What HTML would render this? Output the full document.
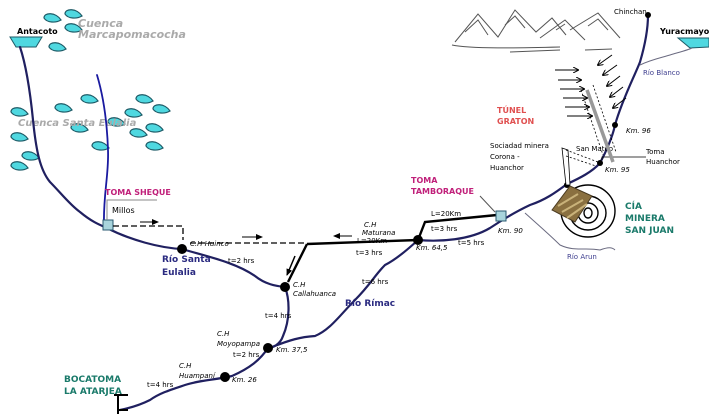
<!DOCTYPE html>
<html><head><meta charset="utf-8"><style>
body{margin:0;background:#fff}
svg{display:block}
text{font-family:"DejaVu Sans","Liberation Sans",sans-serif}
</style></head><body>
<svg width="709" height="414" viewBox="0 0 709 414" xmlns="http://www.w3.org/2000/svg">
<defs>
<marker id="ah" markerWidth="8" markerHeight="8" refX="6" refY="4" orient="auto" markerUnits="userSpaceOnUse"><path d="M0,1 L7,4 L0,7 z" fill="#000"/></marker>
<marker id="ah2" markerWidth="6" markerHeight="6" refX="5" refY="3" orient="auto" markerUnits="userSpaceOnUse"><path d="M0,0 L6,3 L0,6" fill="none" stroke="#000" stroke-width="1"/></marker>
<g id="lk"><path d="M0,5 C0,-1 12,-1 17,7 C12,10 3,10 0,5 z" fill="#4fd8e0" stroke="#1d5a66" stroke-width="1.2"/></g>
</defs>

<use href="#lk" x="44" y="13"/><use href="#lk" x="65" y="9"/><use href="#lk" x="65" y="23"/><use href="#lk" x="49" y="42"/>
<use href="#lk" x="11" y="107"/><use href="#lk" x="55" y="103"/><use href="#lk" x="81" y="94"/><use href="#lk" x="136" y="94"/>
<use href="#lk" x="153" y="104"/><use href="#lk" x="125" y="108"/><use href="#lk" x="108" y="117"/><use href="#lk" x="71" y="123"/>
<use href="#lk" x="11" y="132"/><use href="#lk" x="146" y="123"/><use href="#lk" x="130" y="128"/><use href="#lk" x="92" y="141"/>
<use href="#lk" x="146" y="141"/><use href="#lk" x="22" y="151"/><use href="#lk" x="11" y="161"/>

<text x="78" y="27" font-size="11" font-style="italic" font-weight="bold" fill="#aaa">Cuenca</text>
<text x="78" y="38" font-size="11" font-style="italic" font-weight="bold" fill="#aaa">Marcapomacocha</text>
<text x="18" y="126" font-size="10" font-style="italic" font-weight="bold" fill="#aaa">Cuenca Santa Eulalia</text>

<text x="17" y="34" font-size="8" font-weight="bold">Antacoto</text>
<path d="M10,37 L42,37 L36,47 L16,47 z" fill="#4fd8e0" stroke="#1d5a66"/>
<text x="660" y="34" font-size="8" font-weight="bold">Yuracmayo</text>
<path d="M678,38 L709,38 L709,47 L690,48 z" fill="#4fd8e0" stroke="#1d5a66"/>

<g fill="none" stroke="#202060" stroke-width="2.2" stroke-linecap="round">
<path d="M20,47 C26,65 30,90 33,120 C36,150 40,170 50,182 C60,192 70,205 80,212 C92,222 100,225 107,228 C130,240 160,248 182,249 C205,256 235,262 255,276 C265,284 275,286 285,287 C290,300 290,320 283,336 C280,345 272,348 268,348 C260,360 250,368 232,376 C215,380 200,380 185,385 C170,390 160,393 150,400 C140,405 130,408 120,410"/>
<path d="M97,75 C103,95 107,120 108,150 C109,175 103,195 104,226" stroke="#1a1aa0" stroke-width="1.8"/>
<path d="M418,240 C440,242 470,240 490,228 C505,218 515,212 530,205 C545,200 555,193 567,184 C580,178 592,172 600,163 C607,150 613,135 615,125 C622,100 635,75 640,62 C645,45 648,30 648,15"/>
<path d="M418,240 C405,252 395,260 385,265 C375,275 370,285 355,300 C340,315 330,330 315,336 C300,337 290,340 272,347"/>
</g>
<g fill="none" stroke="#6a6a80" stroke-width="1">
<path d="M640,65 C650,60 660,58 670,55 C680,52 688,50 692,48"/>
<path d="M525,213 C535,222 550,235 560,245 C575,252 585,247 600,250 C608,247 612,247 615,250"/>
</g>
<text x="643" y="75" font-size="7" fill="#404090">Río Blanco</text>
<text x="567" y="259" font-size="7" fill="#404090">Río Arun</text>

<rect x="103" y="220" width="10" height="10" fill="#a8d4dc" stroke="#2a5a70"/>
<text x="105" y="195" font-size="8" font-weight="bold" fill="#c0207a">TOMA  SHEQUE</text>
<path d="M107,220 V200 H157" fill="none" stroke="#888" stroke-width="1"/>
<text x="112" y="213" font-size="8">Millos</text>
<path d="M113,226 H183 V240" fill="none" stroke="#000" stroke-dasharray="6,3" stroke-width="1.3"/>
<line x1="140" y1="222" x2="158" y2="222" stroke="#000" marker-end="url(#ah)"/>
<path d="M190,243 H307" fill="none" stroke="#000" stroke-dasharray="6,3" stroke-width="1.3"/>
<line x1="242" y1="237" x2="262" y2="237" stroke="#000" marker-end="url(#ah)"/>
<line x1="352" y1="236" x2="334" y2="236" stroke="#000" marker-end="url(#ah)"/>
<path d="M307,244 L418,240 M307,244 L288,282 M418,240 L425,222 L497,215" fill="none" stroke="#000" stroke-width="2.4"/>
<line x1="295" y1="256" x2="287" y2="275" stroke="#000" stroke-width="1.5" marker-end="url(#ah)"/>

<rect x="496" y="211" width="10" height="10" fill="#a8d4dc" stroke="#2a5a70"/>
<text x="411" y="183" font-size="8" font-weight="bold" fill="#c0207a">TOMA</text>
<text x="411" y="194" font-size="8" font-weight="bold" fill="#c0207a">TAMBORAQUE</text>
<path d="M480,196 L495,212" stroke="#555" fill="none"/>

<g fill="#000"><circle cx="182" cy="249" r="5"/><circle cx="285" cy="287" r="5"/><circle cx="418" cy="240" r="5"/>
<circle cx="268" cy="348" r="5"/><circle cx="225" cy="377" r="5"/><circle cx="600" cy="163" r="3"/><circle cx="615" cy="125" r="3"/><circle cx="648" cy="15" r="3"/><circle cx="567" cy="185" r="3"/></g>

<g font-size="7" font-style="italic">
<text x="190" y="246">C.H Huinco</text>
<text x="293" y="287">C.H</text><text x="293" y="296">Callahuanca</text>
<text x="364" y="227">C.H</text><text x="362" y="235">Maturana</text>
<text x="416" y="250">Km. 64,5</text>
<text x="498" y="233">Km. 90</text>
<text x="217" y="336">C.H</text><text x="217" y="346">Moyopampa</text>
<text x="276" y="352">Km. 37,5</text>
<text x="179" y="368">C.H</text><text x="179" y="378">Huampaní</text>
<text x="232" y="382">Km. 26</text>
<text x="626" y="133">Km. 96</text>
<text x="605" y="172">Km. 95</text>
</g>
<g font-size="7">
<text x="357" y="243">L=20Km</text>
<text x="356" y="255">t=3 hrs</text>
<text x="431" y="216">L=20Km</text>
<text x="431" y="231">t=3 hrs</text>
<text x="458" y="245">t=5 hrs</text>
<text x="228" y="263">t=2 hrs</text>
<text x="362" y="284">t=6 hrs</text>
<text x="265" y="318">t=4 hrs</text>
<text x="233" y="357">t=2 hrs</text>
<text x="147" y="387">t=4 hrs</text>
<text x="490" y="148">Sociadad minera</text>
<text x="490" y="159">Corona -</text>
<text x="490" y="170">Huanchor</text>
<text x="576" y="151">San Mateo</text>
<text x="646" y="154">Toma</text>
<text x="646" y="164">Huanchor</text>
<text x="614" y="14">Chinchan</text>
</g>
<path d="M602,160 V157 H646 " fill="none" stroke="#000" stroke-width="0.8"/>
<g font-size="9" font-weight="bold" fill="#2a2a80">
<text x="162" y="262">Río Santa</text><text x="162" y="275">Eulalia</text>
<text x="345" y="306">Río Rímac</text>
</g>
<g font-size="9" font-weight="bold" fill="#1a7a6a">
<text x="625" y="209">CÍA</text><text x="625" y="221">MINERA</text><text x="625" y="233">SAN JUAN</text>
<text x="64" y="382">BOCATOMA</text><text x="64" y="394">LA ATARJEA</text>
</g>
<text x="497" y="113" font-size="8" font-weight="bold" fill="#e05050">TÚNEL</text>
<text x="497" y="124" font-size="8" font-weight="bold" fill="#e05050">GRATON</text>

<path d="M114,395 H128 M118,395 V414 M118,410 H128" stroke="#000" stroke-width="2" fill="none"/>

<g fill="none" stroke="#555" stroke-width="1">
<path d="M455,42 L478,14 L498,37 L515,10 L536,32 L552,18 L566,35 M540,38 L565,20 L585,40 M570,30 L598,13 L620,38"/>
<path d="M465,32 L478,20 L488,35 M505,25 L515,16 L525,28 M556,30 L565,24 M588,26 L598,19 L608,30"/>
<path d="M452,45 C470,49 520,48 560,47 M510,52 L560,50 M585,50 L612,49"/>
</g>
<line x1="587" y1="90" x2="613" y2="162" stroke="#999" stroke-width="3.5"/>
<line x1="581" y1="90" x2="603" y2="155" stroke="#000" stroke-width="0.8" stroke-dasharray="2,2"/>
<line x1="593" y1="85" x2="616" y2="152" stroke="#000" stroke-width="0.8" stroke-dasharray="2,2"/>
<g stroke="#000" stroke-width="1">
<line x1="555" y1="70" x2="578" y2="70" marker-end="url(#ah2)"/>
<line x1="558" y1="80" x2="581" y2="80" marker-end="url(#ah2)"/>
<line x1="560" y1="89" x2="584" y2="89" marker-end="url(#ah2)"/>
<line x1="563" y1="98" x2="587" y2="98" marker-end="url(#ah2)"/>
<line x1="565" y1="107" x2="589" y2="107" marker-end="url(#ah2)"/>
<line x1="567" y1="116" x2="592" y2="116" marker-end="url(#ah2)"/>
<line x1="612" y1="55" x2="598" y2="65" marker-end="url(#ah2)"/>
<line x1="617" y1="65" x2="603" y2="75" marker-end="url(#ah2)"/>
<line x1="620" y1="76" x2="607" y2="86" marker-end="url(#ah2)"/>
<line x1="623" y1="87" x2="610" y2="97" marker-end="url(#ah2)"/>
<line x1="626" y1="98" x2="613" y2="108" marker-end="url(#ah2)"/>
</g>
<path d="M562,148 L568,150 L570,185 L566,185 z" fill="#fff" stroke="#000" stroke-width="0.8"/>
<path d="M566,150 L598,162 M566,156 L596,166" stroke="#000" stroke-width="0.8" stroke-dasharray="2,2"/>
<g fill="none" stroke="#000" stroke-width="1.4">
<ellipse cx="588" cy="211" rx="27" ry="26"/>
<ellipse cx="588" cy="213" rx="18" ry="17"/>
<ellipse cx="588" cy="213" rx="10" ry="10"/>
<ellipse cx="588" cy="213" rx="4" ry="5"/>
</g>
<path d="M552,210 L570,186 L592,196 L575,222 z" fill="#8a7040" stroke="#4a3a20"/>
<path d="M558,206 L578,194 M562,212 L583,200 M567,218 L587,204" stroke="#c9b27a" stroke-width="2"/>
</svg>
</body></html>
